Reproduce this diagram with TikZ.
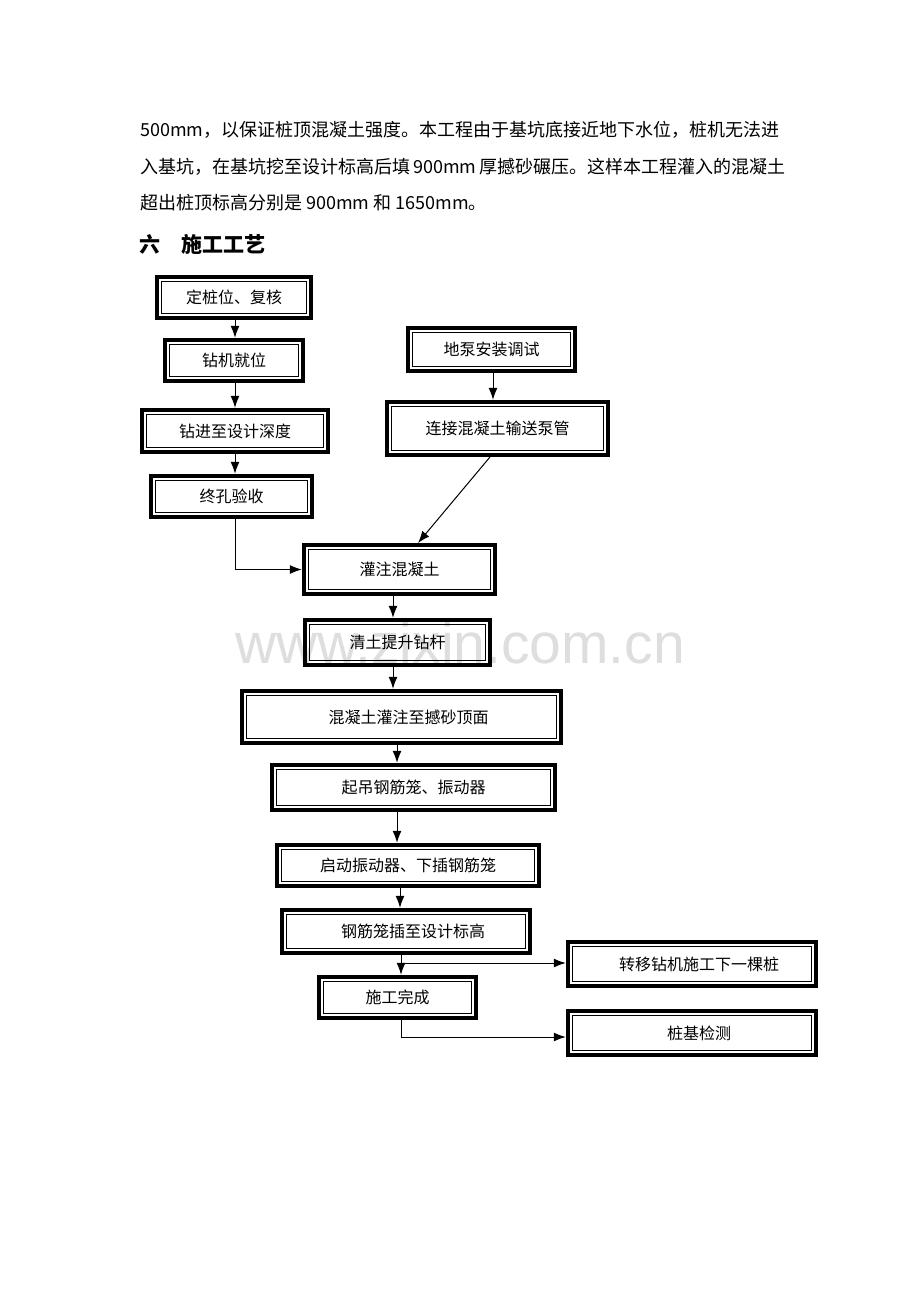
\documentclass[tikz,border=0pt]{standalone}
\usepackage{fontspec}
\setmainfont{Noto Sans CJK SC}
\newfontfamily\wmfont{Liberation Sans}
\usetikzlibrary{arrows.meta}
\newcommand\FlowBox[6]{%
  \node[fb, minimum width={(#4)-(#2)}, minimum height={(#5)-(#3)}] (#1) at ({((#2)+(#4))/2},{((#3)+(#5))/2}) {#6};
  \draw[line width=4.5pt] ([shift={(2.25,2.25)}]#1.north west) rectangle ([shift={(-2.25,-2.25)}]#1.south east);
  \draw[line width=0.9pt] ([shift={(6.8,6.8)}]#1.north west) rectangle ([shift={(-6.8,-6.8)}]#1.south east);
}
\begin{document}
\begin{tikzpicture}[x=1pt,y=-1pt,
  fb/.style={inner sep=0pt, font=\fontsize{16}{16}\selectfont},
  para/.style={anchor=west, inner sep=0pt, font=\fontsize{18}{18}\selectfont},
  arr/.style={line width=1pt, -{Latex[length=12pt,width=9pt]}},
  ln/.style={line width=1pt}]
\useasboundingbox[fill=white] (0,0) rectangle (920,1302);

% watermark
\node[anchor=base west, inner sep=0pt, text=black!13, font=\wmfont\fontsize{57}{57}\selectfont] (wm) at (235,663) {www.zixin.com.cn};

% paragraph text
\node[para] (t1) at (140,130) {500mm，以保证桩顶混凝土强度。本工程由于基坑底接近地下水位，桩机无法进};
\node[para] (t2) at (140,167) {入基坑，在基坑挖至设计标高后填\,900mm\,厚撼砂碾压。这样本工程灌入的混凝土};
\node[para] (t3) at (140,203) {超出桩顶标高分别是 900mm 和 1650mm。};
\node[para, font=\fontsize{21}{21}\selectfont\bfseries] (h1) at (139,244) {六　施工工艺};

% boxes
\FlowBox{n1}{155}{275}{313}{320}{定桩位、复核}
\FlowBox{n2}{163}{338}{305}{383}{钻机就位}
\FlowBox{n3}{140}{408}{330}{454}{钻进至设计深度}
\FlowBox{n4}{149}{474}{314}{519}{终孔验收}
\FlowBox{p1}{406}{326}{577}{373}{地泵安装调试}
\FlowBox{p2}{385}{400}{610}{457}{连接混凝土输送泵管}
\FlowBox{c1}{302}{543}{497}{596}{灌注混凝土}
\FlowBox{c2}{303}{618}{492}{667}{清土提升钻杆}
\FlowBox{c3}{240}{689}{563}{745}{\hspace{14pt}混凝土灌注至撼砂顶面}
\FlowBox{c4}{270}{763}{557}{812}{起吊钢筋笼、振动器}
\FlowBox{c5}{275}{843}{541}{888}{启动振动器、下插钢筋笼}
\FlowBox{c6}{280}{908}{532}{955}{\hspace{14pt}钢筋笼插至设计标高}
\FlowBox{c7}{317}{975}{478}{1020}{施工完成}
\FlowBox{r1}{566}{940}{818}{988}{\hspace{14pt}转移钻机施工下一棵桩}
\FlowBox{r2}{566}{1009}{818}{1057}{\hspace{14pt}桩基检测}

% connectors
\coordinate (a1) at (235,320);
\draw[arr] (a1) -- (a1 |- n2.north);
\coordinate (a2) at (235,383);
\draw[arr] (a2) -- (a2 |- n3.north);
\coordinate (a3) at (235,454);
\draw[arr] (a3) -- (a3 |- n4.north);
\coordinate (a4) at (235,519);
\draw[arr] (a4) |- (c1.west);
\coordinate (b1) at (493,373);
\draw[arr] (b1) -- (b1 |- p2.north);
\coordinate (b2) at (490,457);
\coordinate (b3) at (418,543);
\draw[arr] (b2) -- (b3);
\coordinate (d1) at (393,596);
\draw[arr] (d1) -- (d1 |- c2.north);
\coordinate (d2) at (393,667);
\draw[arr] (d2) -- (d2 |- c3.north);
\coordinate (d3) at (397,745);
\draw[arr] (d3) -- (d3 |- c4.north);
\coordinate (d4) at (397,812);
\draw[arr] (d4) -- (d4 |- c5.north);
\coordinate (d5) at (400,888);
\draw[arr] (d5) -- (d5 |- c6.north);
\coordinate (d6) at (401,955);
\draw[arr] (d6) -- (d6 |- c7.north);
\coordinate (e1) at (401,963);
\draw[arr] (e1) -- (e1 -| r1.west);
\coordinate (e2) at (401,1020);
\coordinate (e3) at (401,1037);
\draw[arr] (e2) -- (e3) -- (e3 -| r2.west);
\end{tikzpicture}
\end{document}
